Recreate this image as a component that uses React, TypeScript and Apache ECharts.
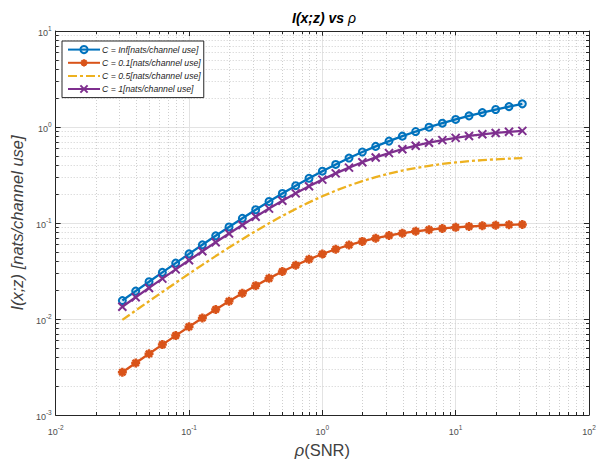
import React, { useEffect, useRef } from "react";
import * as echarts from "echarts";

// SNR values (rho), log-spaced
const rho = [
  0.03162, 0.03981, 0.05012, 0.0631, 0.07943, 0.1, 0.1259, 0.1585, 0.1995, 0.2512,
  0.3162, 0.3981, 0.5012, 0.631, 0.7943, 1, 1.259, 1.585, 1.995, 2.512,
  3.162, 3.981, 5.012, 6.31, 7.943, 10, 12.59, 15.85, 19.95, 25.12, 31.62,
];

const capInf = [
  0.01557, 0.01952, 0.02445, 0.03059, 0.03822, 0.04766, 0.05929, 0.07356, 0.09096, 0.112,
  0.1374, 0.1676, 0.2031, 0.2446, 0.2923, 0.3466, 0.4074, 0.4748, 0.5485, 0.6281,
  0.713, 0.8028, 0.8969, 0.9946, 1.0955, 1.1989, 1.3046, 1.4121, 1.5211, 1.6313, 1.7425,
];
const cap01 = [
  0.002786, 0.003483, 0.004345, 0.005409, 0.006715, 0.008308, 0.01024, 0.01256, 0.01531, 0.01854,
  0.02226, 0.0265, 0.03121, 0.03635, 0.04183, 0.0475, 0.05325, 0.05891, 0.06434, 0.06943,
  0.07409, 0.07826, 0.08192, 0.08508, 0.08777, 0.09004, 0.09192, 0.09347, 0.09474, 0.09578, 0.09662,
];
const cap05 = [
  0.009784, 0.01225, 0.01532, 0.01912, 0.02382, 0.02959, 0.03665, 0.04522, 0.05555, 0.06786,
  0.08236, 0.09922, 0.1185, 0.1402, 0.1641, 0.1899, 0.2172, 0.2452, 0.2733, 0.3009,
  0.3272, 0.3518, 0.3743, 0.3944, 0.4121, 0.4274, 0.4405, 0.4514, 0.4606, 0.4681, 0.4743,
];
const cap1 = [
  0.01343, 0.01683, 0.02107, 0.02634, 0.03287, 0.04093, 0.05084, 0.06295, 0.07764, 0.09533,
  0.1164, 0.1413, 0.1703, 0.2036, 0.2413, 0.2831, 0.3288, 0.3777, 0.429, 0.4818,
  0.5349, 0.5873, 0.638, 0.6859, 0.7305, 0.771, 0.8073, 0.8393, 0.8669, 0.8906, 0.9106,
];

const seriesNames = [
  "C = Inf[nats/channel use]",
  "C = 0.1[nats/channel use]",
  "C = 0.5[nats/channel use]",
  "C = 1[nats/channel use]",
];

const xRange = [0.01, 100];
const yRange = [0.001, 10];
const mantissas = [2, 3, 4, 5, 6, 7, 8, 9];
const xDecades = [0.01, 0.1, 1, 10];
const yDecades = [0.001, 0.01, 0.1, 1];

const xMinor: number[] = [];
xDecades.forEach((d) => mantissas.forEach((m) => xMinor.push(m * d)));
const yMinor: number[] = [];
yDecades.forEach((d) => mantissas.forEach((m) => yMinor.push(m * d)));

const FONT = "'Liberation Sans', Arial, Helvetica, sans-serif";
const AXIS = "#262626";
const LABEL = "#4d4d4d";

const pow10Label = (v: number) => `{b|10}{s|${Math.round(Math.log10(v))}}`;
const labelRich = {
  b: { fontSize: 9, color: LABEL, fontFamily: FONT, lineHeight: 12, verticalAlign: "bottom" },
  s: { fontSize: 6.5, color: LABEL, fontFamily: FONT, lineHeight: 7, verticalAlign: "top" },
};

export default function App() {
  const ref = useRef<HTMLDivElement>(null);
  useEffect(() => {
    if (!ref.current) return;
    const chart = echarts.init(ref.current, undefined, { renderer: "svg" });

    const mk = (a: number[]) => rho.map((r, i) => [r, a[i]]);

    const minorX = {
      type: "custom",
      silent: true,
      z: 1,
      data: xMinor.map((v) => [v, 1]),
      renderItem: (params: any, api: any) => {
        const cs = params.coordSys;
        const px = Math.round(api.coord([api.value(0), 1])[0]) + 0.5;
        const top = cs.y;
        const bot = cs.y + cs.height;
        return {
          type: "group",
          children: [
            { type: "line", shape: { x1: px, y1: top, x2: px, y2: bot }, style: { stroke: "#cfcfcf", lineWidth: 1, lineDash: [1, 2] } },
            { type: "line", shape: { x1: px, y1: bot, x2: px, y2: bot - 3 }, style: { stroke: AXIS, lineWidth: 1 } },
            { type: "line", shape: { x1: px, y1: top, x2: px, y2: top + 3 }, style: { stroke: AXIS, lineWidth: 1 } },
          ],
        };
      },
    };
    const minorY = {
      type: "custom",
      silent: true,
      z: 1,
      data: yMinor.map((v) => [1, v]),
      renderItem: (params: any, api: any) => {
        const cs = params.coordSys;
        const py = Math.round(api.coord([1, api.value(1)])[1]) + 0.5;
        const l = cs.x;
        const r = cs.x + cs.width;
        return {
          type: "group",
          children: [
            { type: "line", shape: { x1: l, y1: py, x2: r, y2: py }, style: { stroke: "#cfcfcf", lineWidth: 1, lineDash: [1, 2] } },
            { type: "line", shape: { x1: l, y1: py, x2: l + 3, y2: py }, style: { stroke: AXIS, lineWidth: 1 } },
            { type: "line", shape: { x1: r, y1: py, x2: r - 3, y2: py }, style: { stroke: AXIS, lineWidth: 1 } },
          ],
        };
      },
    };

    const baseAxis = {
      type: "log",
      logBase: 10,
      axisLine: { show: true, lineStyle: { color: AXIS, width: 1 } },
      axisTick: { show: true, inside: true, length: 5, lineStyle: { color: AXIS } },
    };

    chart.setOption({
      animation: false,
      backgroundColor: "#ffffff",
      textStyle: { fontFamily: FONT },
      title: {
        text: "{t|I(x;z) vs }{r|ρ}",
        left: 287,
        top: 6,
        textStyle: {
          rich: {
            t: { fontSize: 14, fontWeight: "bold", fontStyle: "italic", color: "#000", fontFamily: FONT },
            r: { fontSize: 14, fontWeight: "normal", fontStyle: "italic", color: "#000", fontFamily: FONT },
          },
        },
      },
      grid: { left: 55, right: 21, top: 31, bottom: 49, containLabel: false },
      legend: {
        data: [
          { name: seriesNames[0] },
          { name: seriesNames[1] },
          { name: seriesNames[2], itemStyle: { opacity: 0 } },
          { name: seriesNames[3] },
        ],
        orient: "vertical",
        left: 62,
        top: 41,
        padding: [4, 3, 4, 5],
        itemGap: 4,
        itemWidth: 32,
        itemHeight: 9,
        backgroundColor: "#ffffff",
        borderColor: AXIS,
        borderWidth: 1,
        borderRadius: 0,
        textStyle: { fontSize: 8.7, fontStyle: "italic", color: "#262626", fontFamily: FONT, padding: [0, 0, 0, -3] },
      },
      xAxis: [
        {
          ...baseAxis,
          min: xRange[0],
          max: xRange[1],
          position: "bottom",
          name: "{r|ρ}{n|(SNR)}",
          nameLocation: "middle",
          nameGap: 26,
          nameTextStyle: {
            rich: {
              r: { fontSize: 16.5, fontStyle: "italic", color: "#404040", fontFamily: FONT },
              n: { fontSize: 16.5, color: "#404040", fontFamily: FONT },
            },
          },
          axisLabel: { show: true, margin: 9, formatter: pow10Label, rich: labelRich },
          splitLine: { show: true, lineStyle: { color: "#e3e3e3", width: 1 } },
        },
        {
          ...baseAxis,
          min: xRange[0],
          max: xRange[1],
          position: "top",
          axisLabel: { show: false },
          splitLine: { show: false },
        },
      ],
      yAxis: [
        {
          ...baseAxis,
          min: yRange[0],
          max: yRange[1],
          position: "left",
          name: "I(x;z) [nats/channel use]",
          nameLocation: "middle",
          nameGap: 21,
          nameTextStyle: { fontSize: 16.5, fontStyle: "italic", color: "#404040", fontFamily: FONT },
          axisLabel: { show: true, margin: 4, formatter: pow10Label, rich: labelRich },
          splitLine: { show: true, lineStyle: { color: "#e3e3e3", width: 1 } },
        },
        {
          ...baseAxis,
          min: yRange[0],
          max: yRange[1],
          position: "right",
          axisLabel: { show: false },
          splitLine: { show: false },
        },
      ],
      series: [
        minorX,
        minorY,
        {
          name: seriesNames[0],
          type: "line",
          data: mk(capInf),
          z: 5,
          symbol: "circle",
          symbolSize: 7,
          lineStyle: { color: "#0072BD", width: 2.3 },
          itemStyle: { color: "rgba(0,114,189,0.15)", borderColor: "#0072BD", borderWidth: 2 },
        },
        {
          name: seriesNames[1],
          type: "line",
          data: mk(cap01),
          z: 5,
          symbol: "path://M0,-5L0,5M-5,0L5,0M-3.5,-3.5L3.5,3.5M-3.5,3.5L3.5,-3.5",
          symbolSize: 9,
          lineStyle: { color: "#D95319", width: 2.3 },
          itemStyle: { color: "#D95319", borderColor: "#D95319", borderWidth: 2.5 },
        },
        {
          name: seriesNames[2],
          type: "line",
          data: mk(cap05),
          z: 5,
          symbol: "none",
          showSymbol: false,
          lineStyle: { color: "#EDB120", width: 2.3, type: [9, 3, 3, 3] },
          itemStyle: { color: "#EDB120" },
        },
        {
          name: seriesNames[3],
          type: "line",
          data: mk(cap1),
          z: 5,
          symbol: "path://M-4,-4L4,4M-4,4L4,-4",
          symbolSize: 8,
          lineStyle: { color: "#7E2F8E", width: 2.3 },
          itemStyle: { color: "#7E2F8E", borderColor: "#7E2F8E", borderWidth: 2 },
        },
      ],
    });
    return () => chart.dispose();
  }, []);
  return <div ref={ref} style={{ position: "fixed", left: 0, top: 0, width: 610, height: 464 }} />;
}
